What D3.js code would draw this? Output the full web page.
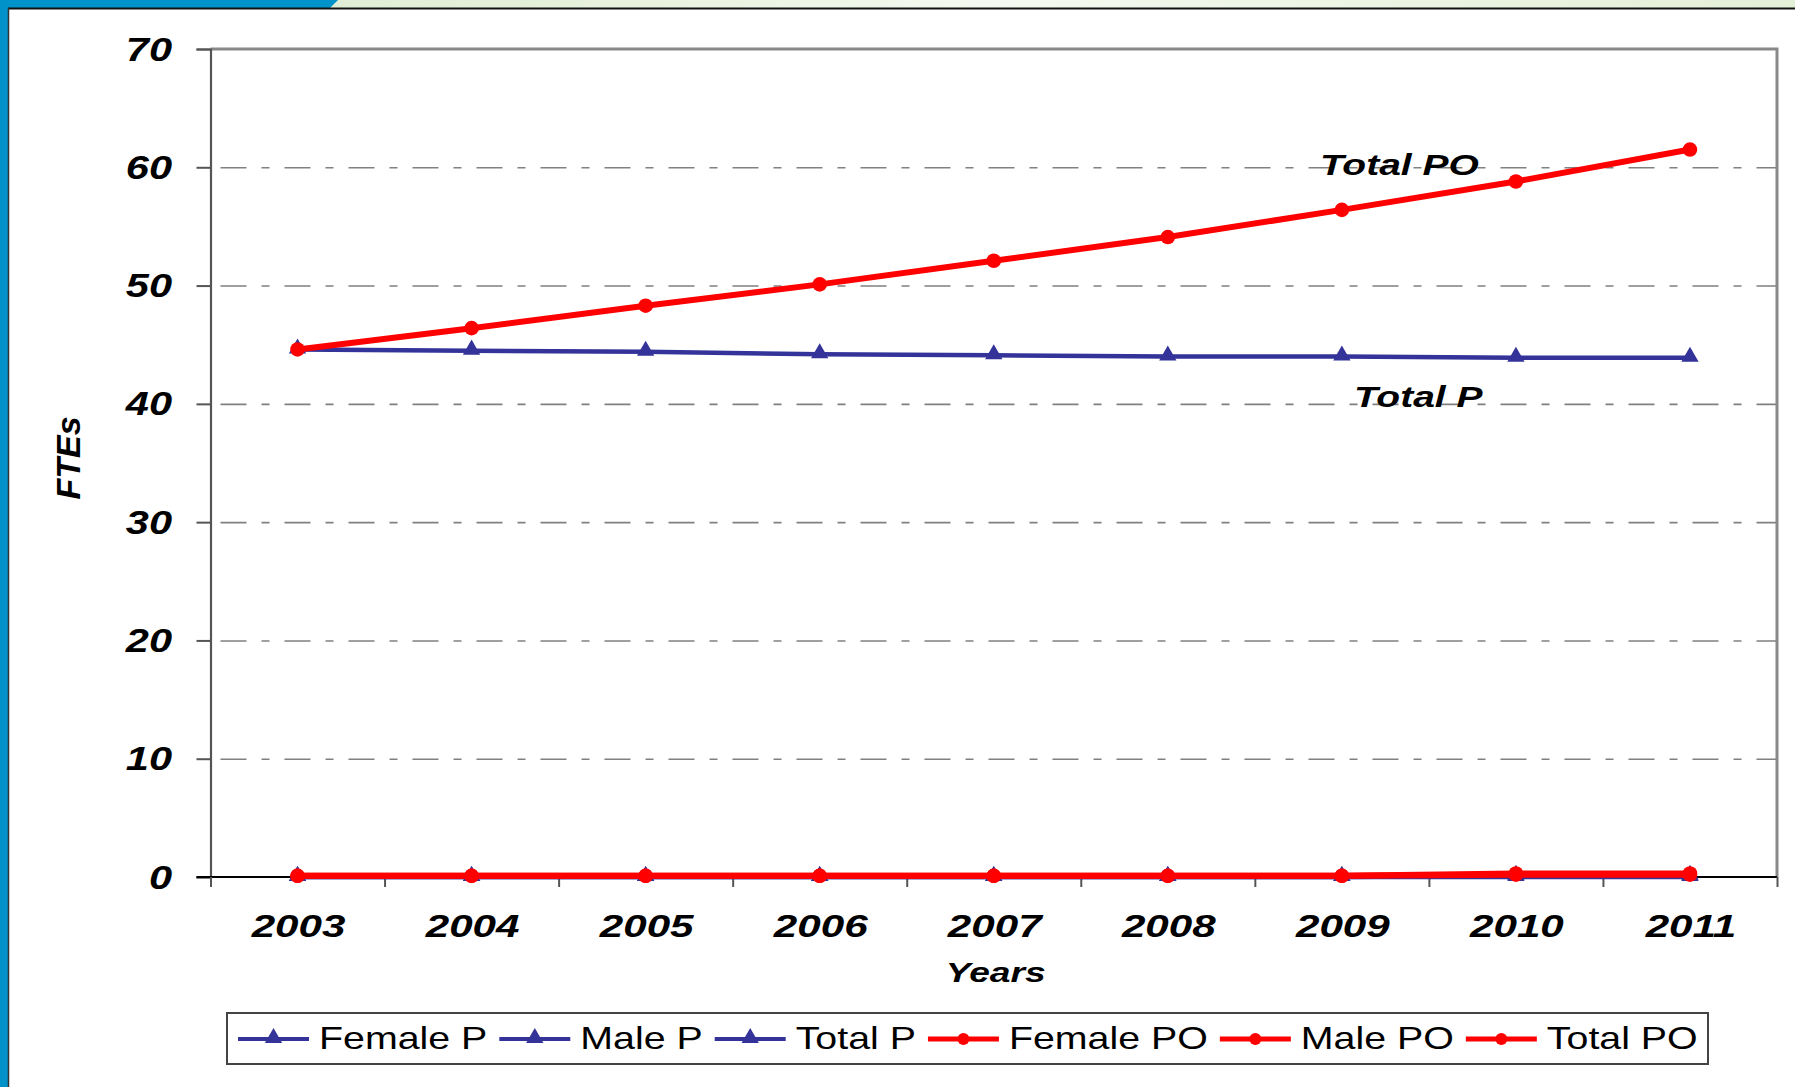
<!DOCTYPE html>
<html>
<head>
<meta charset="utf-8">
<script src="https://cdn.jsdelivr.net/npm/d3@7"></script>
<style>
  html, body { margin: 0; padding: 0; background: #fff; }
  svg { display: block; }
  text { font-family: "Liberation Sans", Arial, sans-serif; }
</style>
</head>
<body>
<svg id="chart"></svg>
<script>
// chart data
const years = ['2003', '2004', '2005', '2006', '2007', '2008', '2009', '2010', '2011'];
const femaleP = [0, 0, 0, 0, 0, 0, 0, 0.1, 0.1];
const maleP = [0, 0, 0, 0, 0, 0, 0, 0, 0];
const totalP = [44.6, 44.5, 44.4, 44.2, 44.1, 44.0, 44.0, 43.9, 43.9];
const femalePO = [0.1, 0.1, 0.1, 0.1, 0.1, 0.1, 0.1, 0.3, 0.3];
const malePO = [0.1, 0.1, 0.1, 0.1, 0.1, 0.1, 0.1, 0.2, 0.2];
const totalPO = [44.6, 46.4, 48.3, 50.1, 52.1, 54.1, 56.4, 58.8, 61.5];
const yTicks = [0, 10, 20, 30, 40, 50, 60, 70];

const blue = '#333399';
const red = '#ff0000';

const series = [
    { name: 'Female P', values: femaleP, color: blue, marker: 'triangle' },
    { name: 'Male P', values: maleP, color: blue, marker: 'triangle' },
    { name: 'Total P', values: totalP, color: blue, marker: 'triangle' },
    { name: 'Female PO', values: femalePO, color: red, marker: 'circle' },
    { name: 'Male PO', values: malePO, color: red, marker: 'circle' },
    { name: 'Total PO', values: totalPO, color: red, marker: 'circle' }
];

const width = 1795;
const height = 1087;
const plot = { left: 210.5, right: 1777, top: 49, bottom: 877 };

const svg = d3.select('#chart')
    .attr('width', width)
    .attr('height', height);

// slide decoration: top band and left bar
const defs = svg.append('defs');
const grad = defs.append('linearGradient').attr('id', 'topband');
grad.append('stop').attr('offset', '0%').attr('stop-color', '#d9ead0');
grad.append('stop').attr('offset', '30%').attr('stop-color', '#e4f1da');
grad.append('stop').attr('offset', '55%').attr('stop-color', '#f4f9ef');
grad.append('stop').attr('offset', '100%').attr('stop-color', '#e3f0d8');

svg.append('rect').attr('x', 0).attr('y', 0).attr('width', width).attr('height', 8)
    .attr('fill', 'url(#topband)');
svg.append('path').attr('d', 'M0,0 L338,0 L330,8 L0,8 Z').attr('fill', '#0092c8');
svg.append('rect').attr('x', 0).attr('y', 0).attr('width', 8).attr('height', height)
    .attr('fill', '#0092c8');
svg.append('line').attr('x1', 8).attr('x2', width).attr('y1', 8.5).attr('y2', 8.5)
    .attr('stroke', '#111').attr('stroke-width', 2);
svg.append('line').attr('x1', 8.5).attr('x2', 8.5).attr('y1', 8).attr('y2', height)
    .attr('stroke', '#333').attr('stroke-width', 1.5);

// scales
const x = d3.scaleBand().domain(years).range([plot.left, plot.right]);
const xEdge = d3.scaleLinear().domain([0, years.length]).range([plot.left, plot.right]);
const y = d3.scaleLinear().domain([0, 70]).range([plot.bottom, plot.top]);
const cx = d => x(d) + x.bandwidth() / 2;

// helper for the wide lettering of the original
function stretched(g, str, px, py, sx, opts) {
    const t = g.append('text')
        .attr('transform', `translate(${px},${py}) scale(${sx},1)`)
        .attr('text-anchor', opts.anchor || 'start')
        .style('font-size', opts.size + 'px')
        .style('font-weight', opts.weight || 'bold')
        .style('font-style', opts.style || 'italic')
        .attr('fill', '#000')
        .text(str);
    return t;
}

// gridlines (dash-dot)
const grid = svg.append('g')
    .attr('transform', `translate(${plot.left},0)`)
    .call(d3.axisLeft(y).tickValues(yTicks.filter(v => v > 0 && v < 70))
        .tickSize(-(plot.right - plot.left)).tickFormat(''));
grid.select('.domain').remove();
grid.selectAll('line')
    .attr('stroke', '#808080')
    .attr('stroke-width', 1.6)
    .attr('stroke-dasharray', '26,15,8,15')
    .attr('stroke-dashoffset', -10);

// plot border top/right
svg.append('path')
    .attr('d', `M${plot.left},${plot.top}H${plot.right}V${plot.bottom}`)
    .attr('fill', 'none')
    .attr('stroke', '#888')
    .attr('stroke-width', 3);

// y axis
const yAxis = svg.append('g')
    .attr('transform', `translate(${plot.left},0)`)
    .call(d3.axisLeft(y).tickValues(yTicks).tickSize(14).tickFormat(''));
yAxis.select('.domain').attr('stroke', '#555').attr('stroke-width', 2.2);
yAxis.selectAll('.tick line').attr('stroke', '#555').attr('stroke-width', 2);

yTicks.forEach(v => {
    stretched(svg, String(v), 172, y(v) + 11.5, 1.26, { size: 33, anchor: 'end' });
});

// x axis with ticks at category boundaries
const xAxis = svg.append('g')
    .attr('transform', `translate(0,${plot.bottom})`)
    .call(d3.axisBottom(xEdge).ticks(years.length).tickSize(10).tickFormat(''));
xAxis.select('.domain').attr('d', `M${plot.left - 14},0H${plot.right}`)
    .attr('stroke', '#000').attr('stroke-width', 2.2);
xAxis.selectAll('.tick line').attr('stroke', '#555').attr('stroke-width', 2);

years.forEach(yr => {
    stretched(svg, yr, cx(yr) + 1, 937, 1.36, { size: 31, anchor: 'middle' });
});

// axis titles
stretched(svg, 'Years', (plot.left + plot.right) / 2 + 2, 982, 1.33, { size: 28, anchor: 'middle' });
svg.append('text')
    .attr('transform', `translate(80,${458}) rotate(-90)`)
    .attr('text-anchor', 'middle')
    .style('font-size', '34px')
    .style('font-weight', 'bold')
    .style('font-style', 'italic')
    .text('FTEs');

// series lines and markers
const line = d3.line()
    .x((d, i) => cx(years[i]))
    .y(d => y(d));

const triangle = d3.symbol().type(d3.symbolTriangle).size(130);

series.forEach(s => {
    const g = svg.append('g');
    g.append('path')
        .attr('d', line(s.values))
        .attr('fill', 'none')
        .attr('stroke', s.color)
        .attr('stroke-width', s.marker === 'circle' ? 6 : 4.5)
        .attr('stroke-linejoin', 'round');
    if (s.marker === 'circle') {
        g.selectAll('circle')
            .data(s.values)
            .enter()
            .append('circle')
            .attr('cx', (d, i) => cx(years[i]))
            .attr('cy', d => y(d))
            .attr('r', 7.3)
            .attr('fill', s.color);
    } else {
        g.selectAll('path.mk')
            .data(s.values)
            .enter()
            .append('path')
            .attr('class', 'mk')
            .attr('d', triangle)
            .attr('transform', (d, i) => `translate(${cx(years[i])},${y(d) - 1})`)
            .attr('fill', s.color);
    }
});

// series labels
stretched(svg, 'Total PO', 1320, 175, 1.3, { size: 30 });
stretched(svg, 'Total P', 1354, 407, 1.3, { size: 30 });

// legend
const legend = svg.append('g');
legend.append('rect')
    .attr('x', 227).attr('y', 1013)
    .attr('width', 1481).attr('height', 51)
    .attr('fill', '#fff')
    .attr('stroke', '#444')
    .attr('stroke-width', 2);

let lx = 238;
series.forEach(s => {
    const item = legend.append('g');
    item.append('line')
        .attr('x1', lx).attr('x2', lx + 71)
        .attr('y1', 1039).attr('y2', 1039)
        .attr('stroke', s.color)
        .attr('stroke-width', s.marker === 'circle' ? 5 : 4);
    if (s.marker === 'circle') {
        item.append('circle').attr('cx', lx + 35.5).attr('cy', 1039).attr('r', 6).attr('fill', s.color);
    } else {
        item.append('path').attr('d', triangle)
            .attr('transform', `translate(${lx + 35.5},${1038})`)
            .attr('fill', s.color);
    }
    const sx = 1.29;
    const t = stretched(item, s.name, lx + 81, 1049, sx, { size: 30.5, weight: 'normal', style: 'normal' });
    const w = t.node().getComputedTextLength() * sx;
    lx += 81 + w + 12;
});
</script>
</body>
</html>
